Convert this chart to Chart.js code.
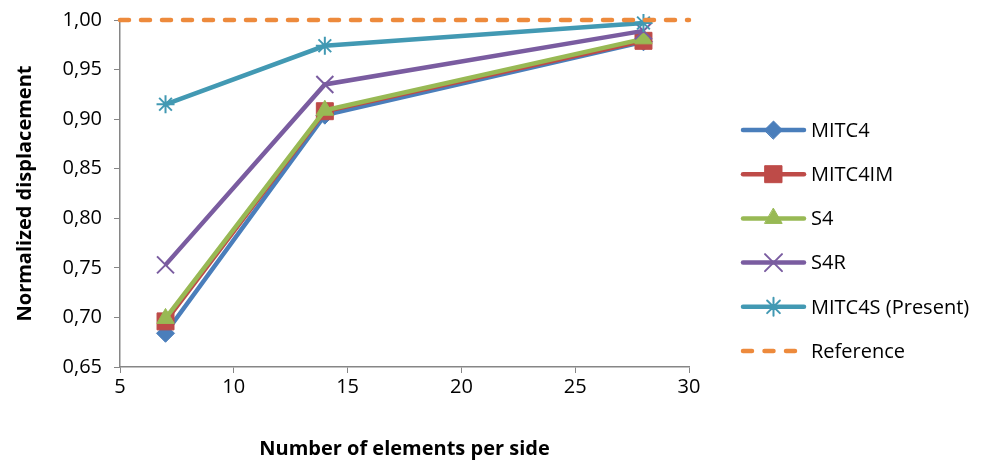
<!DOCTYPE html>
<html lang="en">
<head>
    <meta charset="UTF-8">
    <title>Normalized displacement</title>
    <script src="https://cdn.jsdelivr.net/npm/chart.js"></script>
    <style>
        html, body { margin: 0; padding: 0; background: #ffffff; }
        #wrap { width: 985px; height: 469px; }
    </style>
</head>
<body>
    <div id="wrap"><canvas id="chart"></canvas></div>
    <script>
        // data
        const elementsPerSide = [7, 14, 28];
        const mitc4 = [0.684, 0.904, 0.978];
        const mitc4im = [0.696, 0.908, 0.979];
        const s4 = [0.699, 0.909, 0.981];
        const s4r = [0.753, 0.935, 0.989];
        const mitc4s = [0.915, 0.974, 0.997];
        const referenceX = [5, 30];
        const referenceY = [1.00, 1.00];

        const seriesNames = ['MITC4', 'MITC4IM', 'S4', 'S4R', 'MITC4S (Present)', 'Reference'];
        const yTitle = 'Normalized displacement';
        const xTitle = 'Number of elements per side';

        const FONT = '"Open Sans", sans-serif';

        function pts(xs, ys) {
            return xs.map((x, i) => ({ x: x, y: ys[i] }));
        }

        function series(label, data, color, style, radius, order) {
            return {
                label: label,
                data: data,
                borderColor: color,
                backgroundColor: color,
                borderWidth: 4.5,
                pointStyle: style,
                pointRadius: radius,
                pointHoverRadius: radius,
                pointBorderWidth: (style === 'crossRot' || style === 'star') ? 2 : 1,
                tension: 0,
                clip: false,
                order: order
            };
        }

        const datasets = [
            series(seriesNames[0], pts(elementsPerSide, mitc4), '#4a7ebb', 'rectRot', 9, 6),
            series(seriesNames[1], pts(elementsPerSide, mitc4im), '#be4b48', 'rect', 12, 5),
            series(seriesNames[2], pts(elementsPerSide, s4), '#98b954', 'triangle', 10, 4),
            series(seriesNames[3], pts(elementsPerSide, s4r), '#7a5ca0', 'crossRot', 12, 3),
            series(seriesNames[4], pts(elementsPerSide, mitc4s), '#4299b3', 'star', 9, 2),
            {
                label: seriesNames[5],
                data: pts(referenceX, referenceY),
                borderColor: '#ed8a3c',
                backgroundColor: '#ed8a3c',
                borderWidth: 4.5,
                borderDash: [9, 12],
                borderCapStyle: 'round',
                pointRadius: 0,
                clip: false,
                order: 1
            }
        ];

        // Excel-like legend: line sample with the marker in the middle
        const sideLegend = {
            id: 'sideLegend',
            afterDraw(chart) {
                const ctx = chart.ctx;
                const x0 = 743, x1 = 804, y0 = 130, gap = 44.2;
                chart.data.datasets.forEach((ds, i) => {
                    const y = y0 + i * gap;
                    ctx.save();
                    ctx.strokeStyle = ds.borderColor;
                    ctx.lineWidth = ds.borderWidth;
                    ctx.lineCap = 'round';
                    ctx.setLineDash(ds.borderDash ? [9, 12.5] : []);
                    ctx.beginPath();
                    ctx.moveTo(x0, y);
                    ctx.lineTo(x1, y);
                    ctx.stroke();
                    ctx.setLineDash([]);
                    if (ds.pointRadius) {
                        ctx.fillStyle = ds.backgroundColor;
                        ctx.strokeStyle = ds.borderColor;
                        ctx.lineWidth = ds.pointBorderWidth;
                        Chart.helpers.drawPoint(ctx, {
                            pointStyle: ds.pointStyle,
                            radius: ds.pointRadius,
                            rotation: 0,
                            borderWidth: ds.pointBorderWidth
                        }, (x0 + x1) / 2, y);
                    }
                    ctx.fillStyle = '#000000';
                    ctx.font = '20px ' + FONT;
                    ctx.textBaseline = 'middle';
                    ctx.fillText(ds.label, 811, y + 1);
                    ctx.restore();
                });
            }
        };

        new Chart(document.getElementById('chart'), {
            type: 'line',
            data: { datasets: datasets },
            plugins: [sideLegend],
            options: {
                responsive: true,
                maintainAspectRatio: false,
                animation: false,
                layout: { padding: { left: 9, right: 296, top: 20, bottom: 4 } },
                plugins: {
                    legend: { display: false },
                    tooltip: { enabled: false }
                },
                scales: {
                    x: {
                        type: 'linear',
                        min: 5,
                        max: 30,
                        ticks: {
                            stepSize: 5,
                            color: '#000000',
                            font: { family: FONT, size: 20 },
                            padding: 2
                        },
                        grid: {
                            drawOnChartArea: false,
                            color: '#868686',
                            tickLength: 6
                        },
                        border: { color: '#868686', width: 1.5 },
                        title: {
                            display: true,
                            text: xTitle,
                            color: '#000000',
                            font: { family: FONT, size: 20, weight: 'bold' },
                            padding: { top: 38 }
                        },
                        afterFit(scale) {
                            scale.height = 98;
                            scale.paddingLeft = 0;
                            scale.paddingRight = 0;
                        }
                    },
                    y: {
                        min: 0.65,
                        max: 1.00,
                        ticks: {
                            stepSize: 0.05,
                            color: '#000000',
                            font: { family: FONT, size: 20 },
                            padding: 12,
                            callback: v => v.toFixed(2).replace('.', ',')
                        },
                        grid: {
                            drawOnChartArea: false,
                            color: '#868686',
                            tickLength: 6
                        },
                        border: { color: '#868686', width: 1.5 },
                        title: {
                            display: true,
                            text: yTitle,
                            color: '#000000',
                            font: { family: FONT, size: 20, weight: 'bold' },
                            padding: { bottom: 6 }
                        },
                        afterFit(scale) {
                            scale.width = 111;
                            scale.paddingTop = 0;
                            scale.paddingBottom = 0;
                        }
                    }
                }
            }
        });
    </script>
</body>
</html>
